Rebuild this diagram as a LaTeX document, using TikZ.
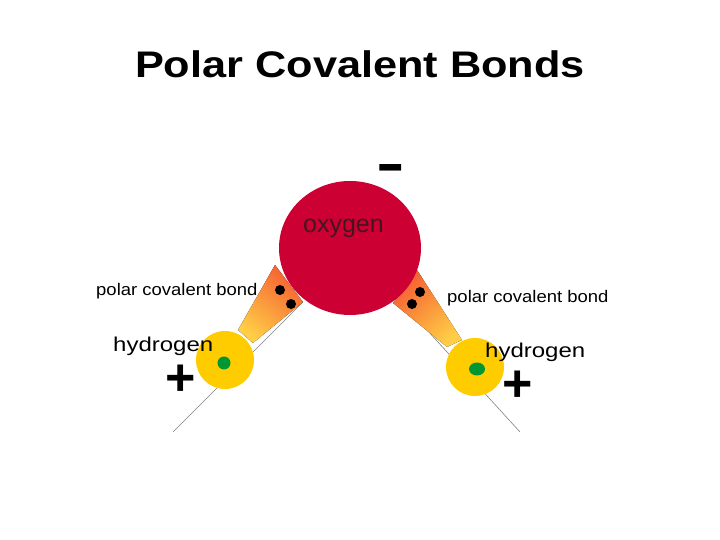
\documentclass[tikz,border=0pt]{standalone}
\usepackage{fontspec}
\setmainfont{Liberation Sans}
\usetikzlibrary{shapes.geometric}
\usetikzlibrary{positioning}

\definecolor{oxyred}{RGB}{204,0,51}
\definecolor{oxytext}{RGB}{70,20,30}
\definecolor{hydyellow}{RGB}{255,204,0}
\definecolor{nucgreen}{RGB}{0,150,50}
\definecolor{bondlight}{RGB}{255,205,70}
\definecolor{bondmid}{RGB}{255,155,55}
\definecolor{bonddark}{RGB}{245,95,50}

\newcommand{\stretchtext}[2]{\scalebox{#1}[1]{#2}}

\begin{document}
\begin{tikzpicture}[
    x=1pt, y=1pt,
    atom/.style={circle, inner sep=0pt, minimum size=58pt, fill=hydyellow},
    nucleus/.style={ellipse, inner sep=0pt, fill=nucgreen},
    electron/.style={circle, inner sep=0pt, minimum size=10pt, fill=black},
    bondlabel/.style={anchor=base west, inner sep=0pt, font=\fontsize{16.8}{18}\selectfont},
    hlabel/.style={anchor=base west, inner sep=0pt, font=\fontsize{20}{22}\selectfont},
    charge/.style={inner sep=0pt, font=\fontsize{52}{52}\selectfont\bfseries},
    axisline/.style={draw=gray, line width=0.6pt},
    bondshade/.style={bottom color=bondlight, middle color=bondmid, top color=bonddark},
]
        \useasboundingbox (0,0) rectangle (720,540);

        % title
        \node (title) at (360,462) [anchor=base, inner sep=0pt,
            font=\fontsize{37}{40}\selectfont\bfseries] {\stretchtext{1.17}{Polar Covalent Bonds}};

        % thin lines behind the atoms
        \coordinate (lineLa) at (173,108);
        \coordinate (lineLb) at (303,238);
        \coordinate (lineRa) at (427,210);
        \coordinate (lineRb) at (520,108);
        \draw[axisline] (lineLa) -- (lineLb);
        \draw[axisline] (lineRa) -- (lineRb);

        % bonds
        \fill[bondshade, shading angle=-39]
            (238,210) -- (275,275) -- (303,238) -- (253,197) -- cycle;
        \fill[bondshade, shading angle=42]
            (417,270) -- (462,200) -- (447,193) -- (393,237) -- cycle;

        % atoms
        \node (oxygen) at (350,292) [
            ellipse, inner sep=0pt,
            minimum width=142pt, minimum height=134pt,
            fill=oxyred,
        ] {};
        \node (hleft) at (225,180) [atom] {};
        \node (hright) at (475,173) [atom] {};

        \node (nucleft) at (224,177) [nucleus, minimum width=13pt, minimum height=13pt] {};
        \node (nucright) at (477,171) [nucleus, minimum width=16pt, minimum height=13pt] {};

        % shared electrons
        \node (eL1) at (280,250) [electron] {};
        \node (eL2) at (291,236) [electron] {};
        \node (eR1) at (420,248) [electron] {};
        \node (eR2) at (412,236) [electron] {};

        % labels
        \node (oxylabel) at (343.5,307) [anchor=base, inner sep=0pt, text=oxytext,
            font=\fontsize{25}{27}\selectfont] {oxygen};
        \node (bondleft) at (96,244) [bondlabel] {\stretchtext{1.1}{polar covalent bond}};
        \node (bondright) at (447,237) [bondlabel] {\stretchtext{1.1}{polar covalent bond}};
        \node (hlabelleft) at (113,188) [hlabel] {\stretchtext{1.2}{hydrogen}};
        \node (hlabelright) at (485,182) [hlabel] {\stretchtext{1.2}{hydrogen}};

        % charges
        \node (plusleft) at (180.5,160) [charge] {+};
        \node (plusright) at (517.5,154) [charge] {+};
        \node (minus) at (391,365) [inner sep=0pt, font=\fontsize{44}{44}\selectfont\bfseries] {\scalebox{1}[1.5]{–}};
    \end{tikzpicture}
\end{document}
